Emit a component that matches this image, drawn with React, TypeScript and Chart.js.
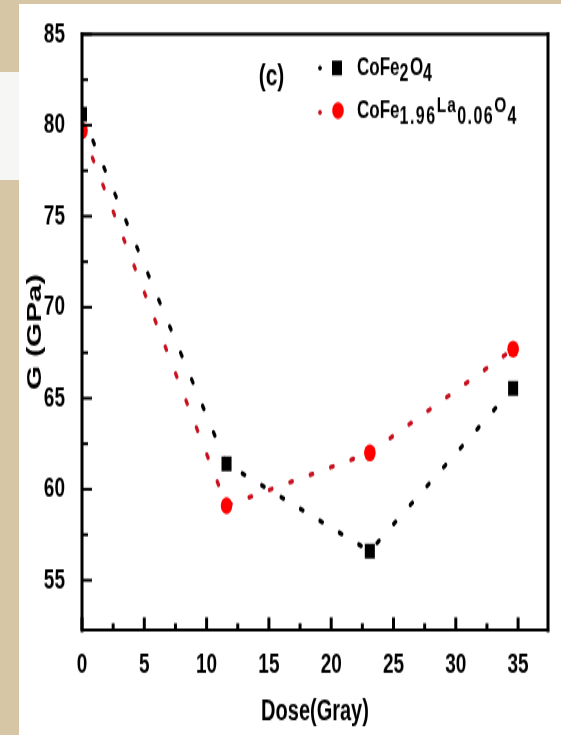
import React, { useEffect, useRef } from "react";
import { Chart, registerables } from "chart.js";

Chart.register(...registerables);

// ---- data ----
const doses = [0, 11.6, 23.1, 34.6];
const gCoFe2O4 = [80.6, 61.4, 56.6, 65.55];
const gCoFeLa = [79.7, 59.1, 62.0, 67.7];
const seriesNames = ["CoFe2O4", "CoFe1.96La0.06O4"];
const xTitle = "Dose(Gray)";
const yTitle = "G (GPa)";
const panelLabel = "(c)";
const xRange = [0, 37.4];
const yRange = [52.27, 85];
const tickStep = 5;
// legend rich-text pieces: kind m = main, s = subscript, u = raised small
const legendRow1 = [
  { t: "CoFe", k: "m" },
  { t: "2", k: "s" },
  { t: "O", k: "m" },
  { t: "4", k: "s" },
];
const legendRow2 = [
  { t: "CoFe", k: "m" },
  { t: "1.96", k: "s" },
  { t: "La", k: "u" },
  { t: "0.06", k: "s" },
  { t: "O", k: "u" },
  { t: "4", k: "s" },
];

const FONT = "'Liberation Sans', Arial, Helvetica, sans-serif";
const S = 1.48; // vertical stretch of the picture
const CW = 542;
const CH_DISPLAY = 731;
const CH = Math.round(CH_DISPLAY / S);

const BLACK = "#000000";
const RED_LINE = "#c8101e";
const RED_MARK = "#ff0000";

function drawRich(ctx: CanvasRenderingContext2D, parts: { t: string; k: string }[], x: number, base: number) {
  let cx = x;
  for (const p of parts) {
    let size = 17;
    let dy = 0;
    let spacing = 0;
    if (p.k === "s") { size = 16; dy = 4; spacing = 1.5; }
    if (p.k === "u") { size = 15.5; dy = -4; spacing = 1.2; }
    ctx.font = `bold ${size}px ${FONT}`;
    (ctx as any).letterSpacing = `${spacing}px`;
    ctx.fillText(p.t, cx, base + dy);
    cx += ctx.measureText(p.t).width;
  }
  (ctx as any).letterSpacing = "0px";
}

const decor = {
  id: "decor",
  afterDatasetsDraw(chart: any) {
    const { ctx, chartArea, scales } = chart;
    const { left, right, top, bottom } = chartArea;
    const xs = scales.x;
    const ys = scales.y;
    ctx.save();
    ctx.strokeStyle = BLACK;
    ctx.lineCap = "butt";
    // y ticks (inward)
    ctx.lineWidth = 2;
    const yt = ys.ticks.map((t: any) => t.value);
    const drawY = (v: number, len: number) => {
      const p = ys.getPixelForValue(v);
      ctx.beginPath();
      ctx.moveTo(left, p);
      ctx.lineTo(left + len, p);
      ctx.stroke();
    };
    yt.forEach((v: number, i: number) => {
      drawY(v, 10);
      if (i < yt.length - 1) drawY((v + yt[i + 1]) / 2, 6);
    });
    // x ticks (inward)
    ctx.lineWidth = 3;
    const xt = xs.ticks.map((t: any) => t.value);
    const drawX = (v: number, len: number) => {
      const p = xs.getPixelForValue(v);
      ctx.beginPath();
      ctx.moveTo(p, bottom);
      ctx.lineTo(p, bottom - len);
      ctx.stroke();
    };
    xt.forEach((v: number, i: number) => {
      drawX(v, 8.5);
      if (i < xt.length - 1) drawX((v + xt[i + 1]) / 2, 4.5);
    });
    // frame
    ctx.lineCap = "square";
    ctx.lineWidth = 3;
    ctx.beginPath();
    ctx.moveTo(left, top); ctx.lineTo(left, bottom);
    ctx.moveTo(right, top); ctx.lineTo(right, bottom);
    ctx.stroke();
    ctx.lineWidth = 2.2;
    ctx.beginPath();
    ctx.moveTo(left, top); ctx.lineTo(right, top);
    ctx.moveTo(left, bottom); ctx.lineTo(right, bottom);
    ctx.stroke();

    // panel label
    ctx.fillStyle = BLACK;
    ctx.textAlign = "center";
    ctx.textBaseline = "middle";
    ctx.font = `bold 21px ${FONT}`;
    ctx.fillText(panelLabel, 252.5, 49.5);

    // legend
    ctx.textAlign = "left";
    ctx.textBaseline = "alphabetic";
    const ds = chart.data.datasets;
    // row 1
    ctx.fillStyle = ds[0].borderColor;
    ctx.beginPath(); ctx.arc(301, 43.2, 1.8, 0, Math.PI * 2); ctx.fill();
    ctx.fillStyle = ds[0].pointBackgroundColor;
    ctx.fillRect(318 - 5, 43.2 - 5, 10, 10);
    ctx.fillStyle = BLACK;
    drawRich(ctx, legendRow1, 338, 48);
    // row 2
    ctx.fillStyle = ds[1].borderColor;
    ctx.beginPath(); ctx.arc(301, 73.2, 1.8, 0, Math.PI * 2); ctx.fill();
    ctx.fillStyle = ds[1].pointBackgroundColor;
    ctx.beginPath(); ctx.arc(319, 72, 5.8, 0, Math.PI * 2); ctx.fill();
    ctx.fillStyle = BLACK;
    drawRich(ctx, legendRow2, 338, 77);
    ctx.restore();
  },
};

export default function App() {
  const ref = useRef<HTMLCanvasElement | null>(null);
  useEffect(() => {
    if (!ref.current) return;
    const tickFont = { family: FONT, size: 19, weight: "bold" as const };
    const chart = new Chart(ref.current, {
      type: "line",
      data: {
        datasets: [
          {
            label: seriesNames[0],
            data: doses.map((d, i) => ({ x: d, y: gCoFe2O4[i] })),
            borderColor: BLACK,
            backgroundColor: BLACK,
            pointBackgroundColor: BLACK,
            pointStyle: "rect",
            pointRadius: 7.1,
            pointBorderWidth: 0,
            borderWidth: 3.2,
            borderDash: [2.5, 18.5],
            borderCapStyle: "round",
            tension: 0,
            order: 1,
            clip: 0,
          } as any,
          {
            label: seriesNames[1],
            data: doses.map((d, i) => ({ x: d, y: gCoFeLa[i] })),
            borderColor: RED_LINE,
            backgroundColor: RED_MARK,
            pointBackgroundColor: RED_MARK,
            pointStyle: "circle",
            pointRadius: 5.8,
            pointBorderWidth: 0,
            borderWidth: 3.2,
            borderDash: [2.5, 18.5],
            borderCapStyle: "round",
            tension: 0,
            order: 0,
            clip: 0,
          } as any,
        ],
      },
      options: {
        responsive: false,
        animation: false,
        devicePixelRatio: 1,
        events: [],
        layout: { padding: { left: 0, top: 17.6, right: 13, bottom: 0 } },
        plugins: { legend: { display: false }, tooltip: { enabled: false } },
        scales: {
          x: {
            type: "linear",
            min: xRange[0],
            max: xRange[1],
            grid: { display: false },
            border: { display: false },
            ticks: {
              stepSize: tickStep,
              includeBounds: false,
              autoSkip: false,
              maxRotation: 0,
              padding: 4.6,
              color: BLACK,
              font: tickFont,
            } as any,
            title: {
              display: true,
              text: xTitle,
              color: BLACK,
              font: { family: FONT, size: 20, weight: "bold" },
              padding: { top: 0, bottom: 3.5 },
            },
            afterFit: (s: any) => { s.height = CH - 423; },
          },
          y: {
            type: "linear",
            min: yRange[0],
            max: yRange[1],
            grid: { display: false },
            border: { display: false },
            ticks: {
              stepSize: tickStep,
              includeBounds: false,
              autoSkip: false,
              padding: 9,
              color: BLACK,
              font: tickFont,
            } as any,
            title: {
              display: true,
              text: yTitle,
              color: BLACK,
              font: { family: FONT, size: 21, weight: "bold" },
              padding: { top: 3.4, bottom: 0 },
            },
            afterFit: (s: any) => { s.width = 63; },
          },
        },
      },
      plugins: [decor],
    });
    return () => chart.destroy();
  }, []);

  return (
    <div style={{ position: "absolute", left: 0, top: 0, width: 561, height: 735, background: "#d6c6a6", overflow: "hidden" }}>
      <div style={{ position: "absolute", left: 0, top: 72, width: 19, height: 108, background: "#f6f6f4" }} />
      <div style={{ position: "absolute", left: 19, top: 4, width: 542, height: 731, background: "#ffffff" }} />
      <canvas
        ref={ref}
        width={CW}
        height={CH}
        style={{ position: "absolute", left: 19, top: 4, width: `${CW}px`, height: `${CH_DISPLAY}px`, display: "block" }}
      />
    </div>
  );
}
